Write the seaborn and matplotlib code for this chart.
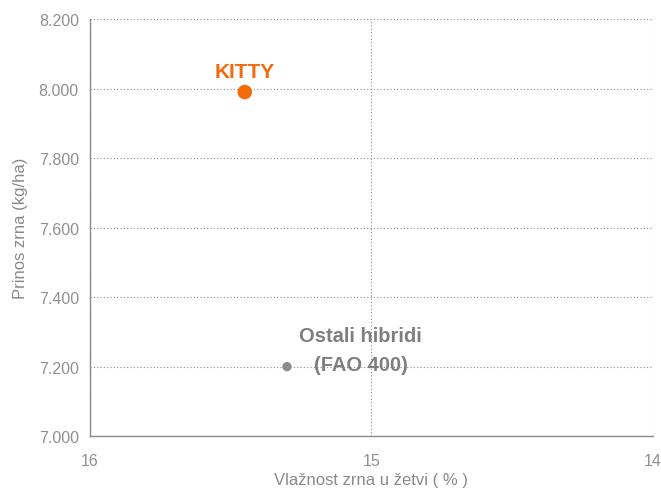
import matplotlib
matplotlib.use("Agg")
import matplotlib.pyplot as plt
import seaborn as sns
import pandas as pd
from matplotlib.ticker import FuncFormatter

# data
hybrids = ["KITTY", "Ostali hibridi\n(FAO 400)"]
moisture = [15.45, 15.30]
yield_kg = [7990, 7200]
colors = ["#F26C0D", "#8C8C8C"]
sizes = [110, 45]

df = pd.DataFrame({"hibrid": hybrids, "vlaga": moisture, "prinos": yield_kg})

sns.set_theme(style="white")
plt.rcParams['font.family'] = ['Liberation Sans', 'DejaVu Sans']

fig = plt.figure(figsize=(6.61, 4.89), dpi=100)
ax = fig.add_axes([0.136, 0.106, 0.852, 0.853])

sns.scatterplot(data=df, x="vlaga", y="prinos", hue="hibrid", palette=colors,
                size="hibrid", sizes=dict(zip(hybrids, sizes)),
                edgecolor="none", legend=False, ax=ax, zorder=3)

ax.set_xlim(16, 14)
ax.set_ylim(7000, 8200)
ax.set_xticks([16, 15, 14])
ax.set_yticks([7000, 7200, 7400, 7600, 7800, 8000, 8200])
ax.yaxis.set_major_formatter(FuncFormatter(lambda v, p: f"{v:,.0f}".replace(",", ".")))

ax.grid(True, linestyle=(0, (1, 2)), color="#8a8a8a", linewidth=0.8)
for s in ["top", "right"]:
    ax.spines[s].set_visible(False)
for s in ["left", "bottom"]:
    ax.spines[s].set_color("#8a8a8a")
    ax.spines[s].set_linewidth(1.0)

ax.tick_params(axis="both", length=0, labelsize=11.5, labelcolor="#909090", pad=8)
ax.tick_params(axis="x", pad=12)
ax.set_xlabel("Vlažnost zrna u žetvi ( % )", fontsize=12, color="#8a8a8a", labelpad=3)
ax.set_ylabel("Prinos zrna (kg/ha)", fontsize=12, color="#8a8a8a", labelpad=8)

# point labels
ax.annotate(hybrids[0], (moisture[0], yield_kg[0]), xytext=(0, 15), textcoords="offset points",
            ha="center", va="center", fontsize=15, fontweight="bold", color=colors[0])
ax.annotate(hybrids[1], (moisture[1], yield_kg[1]), xytext=(53, 12), textcoords="offset points",
            ha="center", va="center", fontsize=14.5, fontweight="bold", color="#7f7f7f",
            linespacing=1.65, zorder=4)

fig.savefig("out.png", dpi=100)
